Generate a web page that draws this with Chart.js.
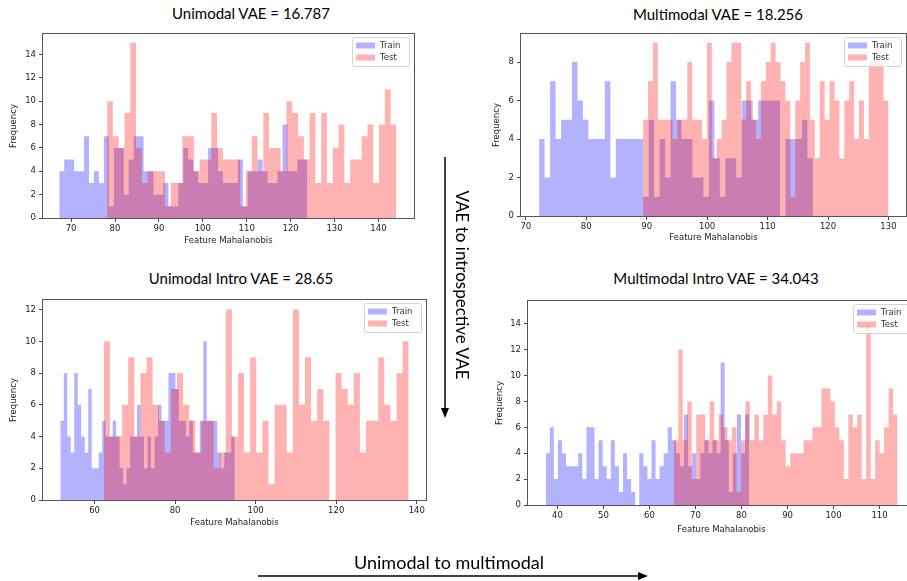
<!DOCTYPE html>
<html>
<head>
<meta charset="utf-8">
<script src="https://cdn.jsdelivr.net/npm/chart.js@4.4.1/dist/chart.umd.min.js"></script>
<style>
  html, body { margin: 0; padding: 0; background: #fff; }
  body { width: 907px; height: 581px; position: relative; overflow: hidden; }
  .title { position: absolute; transform: translate(-50%, -50%); font-family: Lato, "Noto Sans", sans-serif; font-size: 15px; color: #000; white-space: nowrap; }
  .big { position: absolute; font-family: Lato, "Noto Sans", sans-serif; color: #000; white-space: nowrap; }
</style>
</head>
<body>
<script>
// Panel titles
const panelTitles = [
  "Unimodal VAE = 16.787",
  "Multimodal VAE = 18.256",
  "Unimodal Intro VAE = 28.65",
  "Multimodal Intro VAE = 34.043",
];

// Histogram counts (50 bins each) and the data range the bins span
const trainRange1 = [67.3, 123.8];
const trainCounts1 = [4,5,5,4,4,7,3,4,3,7, 1,6,6,2,5,7,7,4,4,2, 2,3,1,1,3,6,5,4,3,3, 6,6,4,3,3,3,5,1,4,4, 5,4,3,3,4,8,4,4,5,5];
const testRange1 = [78.2, 144.1];
const testCounts1 = [10,7,6,9,15,6,3,4,4,4, 1,3,3,7,7,4,5,5,9,6, 5,5,5,1,4,7,4,9,6,6, 4,10,9,7,5,9,3,9,3,6, 8,3,5,5,7,8,3,8,11,8];

const trainRange2 = [72.2, 117.5];
const trainCounts2 = [4,2,7,4,5,5,8,6,5,4, 4,4,7,2,4,4,4,4,4,1, 5,1,4,2,7,5,4,4,2,2, 1,6,3,1,3,3,2,6,6,5, 6,6,6,6,0,4,4,4,5,3];
const testRange2 = [89.4, 130.0];
const testCounts2 = [5,7,9,5,5,5,4,5,5,8, 5,5,4,9,3,4,5,8,9,9, 5,7,5,4,7,8,9,8,7,6, 1,6,8,9,5,3,7,5,7,6, 3,6,7,4,6,4,8,9,8,6];

const trainRange3 = [51.5, 94.8];
const trainCounts3 = [5,8,4,3,8,6,4,3,7,2, 2,3,5,4,4,5,4,2,1,2, 4,4,6,4,2,4,2,4,6,5, 5,8,8,7,5,5,4,5,3,3, 5,10,5,5,5,3,2,3,3,4];
const testRange3 = [62.3, 138.0];
const testCounts3 = [10,4,4,6,9,4,8,9,6,5, 3,7,8,6,5,3,5,5,2,3, 12,4,8,3,9,3,5,1,6,6, 3,12,6,9,5,7,5,0,8,7, 6,8,3,5,5,9,6,5,8,10];

const trainRange4 = [37.45, 81.65];
const trainCounts4 = [4,6,2,5,4,3,3,3,4,2, 6,6,2,5,3,2,5,3,1,4, 2,1,0,4,3,2,5,2,3,4, 6,5,4,3,7,3,4,2,4,5, 4,5,4,11,5,1,4,7,4,7];
const testRange4 = [65.3, 113.9];
const testCounts4 = [5,12,5,8,2,7,7,5,8,5, 7,6,5,6,1,5,8,5,7,5, 7,10,7,8,5,3,4,4,4,5, 5,6,6,9,9,8,6,5,2,7, 6,7,2,14,2,5,4,6,9,7];

// Tick labels
const xTicks1 = [70, 80, 90, 100, 110, 120, 130, 140];
const xTicks2 = [70, 80, 90, 100, 110, 120, 130];
const xTicks3 = [60, 80, 100, 120, 140];
const xTicks4 = [40, 50, 60, 70, 80, 90, 100, 110];
const yTicks1 = [0, 2, 4, 6, 8, 10, 12, 14];
const yTicks2 = [0, 2, 4, 6, 8];
const yTicks3 = [0, 2, 4, 6, 8, 10, 12];
const yTicks4 = [0, 2, 4, 6, 8, 10, 12, 14];

const TRAIN_COLOR = "rgba(0,0,255,0.3)";
const TEST_COLOR = "rgba(255,0,0,0.3)";
const TICK_FONT = { family: "'DejaVu Sans'", size: 8.5 };
const Y_AXIS_W = 43;
const X_AXIS_H = 32;
const PAD = 5;

// Layout of each subplot on the page (axes box in page pixels)
const panels = [
  { title: panelTitles[0], titleAt: [251, 13], trainRange: trainRange1, trainCounts: trainCounts1, testRange: testRange1, testCounts: testCounts1,
    xTicks: xTicks1, yTicks: yTicks1, box: { left: 43, right: 414, top: 31, bottom: 218 }, xMin: 63.6, xMax: 148.1, yMax: 15.75, yTitlePad: 9, xTitlePad: 4 },
  { title: panelTitles[1], titleAt: [718, 14], trainRange: trainRange2, trainCounts: trainCounts2, testRange: testRange2, testCounts: testCounts2,
    xTicks: xTicks2, yTicks: yTicks2, box: { left: 521, right: 906, top: 31, bottom: 216 }, xMin: 69.2, xMax: 132.9, yMax: 9.45, yTitlePad: 14, xTitlePad: 5 },
  { title: panelTitles[2], titleAt: [241, 278], trainRange: trainRange3, trainCounts: trainCounts3, testRange: testRange3, testCounts: testCounts3,
    xTicks: xTicks3, yTicks: yTicks3, box: { left: 43, right: 426, top: 297, bottom: 500 }, xMin: 47.2, xMax: 142.3, yMax: 12.6, yTitlePad: 9, xTitlePad: 4 },
  { title: panelTitles[3], titleAt: [716, 278], trainRange: trainRange4, trainCounts: trainCounts4, testRange: testRange4, testCounts: testCounts4,
    xTicks: xTicks4, yTicks: yTicks4, box: { left: 528, right: 915, top: 298, bottom: 505 }, xMin: 33.6, xMax: 117.7, yMax: 15.75, yTitlePad: 10, xTitlePad: 2 },
];

// Turn bin counts into step points: each bin's value starts at its left edge
function histPoints(range, counts) {
  const step = (range[1] - range[0]) / counts.length;
  const pts = counts.map((c, i) => ({ x: range[0] + i * step, y: c }));
  pts.push({ x: range[1], y: counts[counts.length - 1] });
  return pts;
}

// Full matplotlib-style frame round the plot area
const frameBox = {
  id: "frameBox",
  afterDatasetsDraw(chart) {
    const { ctx, chartArea: a } = chart;
    ctx.save();
    ctx.strokeStyle = "#555";
    ctx.lineWidth = 1;
    ctx.strokeRect(Math.round(a.left) - 0.5, Math.round(a.top) - 0.5, Math.round(a.right - a.left) + 1, Math.round(a.bottom - a.top) + 1);
    ctx.restore();
  },
};

// Legend box in the upper right corner of the plot area
const cornerLegend = {
  id: "cornerLegend",
  afterDraw(chart) {
    const { ctx, chartArea: a } = chart;
    const w = 57, h = 29;
    const x = Math.round(a.right) - w - 5, y = Math.round(a.top) + 3;
    ctx.save();
    ctx.fillStyle = "rgba(255,255,255,0.8)";
    ctx.strokeStyle = "#d4d4d4";
    ctx.lineWidth = 1;
    ctx.beginPath();
    ctx.roundRect(x + 0.5, y + 0.5, w, h, 2);
    ctx.fill();
    ctx.stroke();
    ctx.font = "8.5px 'DejaVu Sans'";
    ctx.textBaseline = "middle";
    ["Train", "Test"].forEach((name, i) => {
      const ds = chart.data.datasets.find((d) => d.label === name);
      const rowY = y + 8.5 + i * 12;
      ctx.fillStyle = ds.backgroundColor;
      ctx.fillRect(x + 4, rowY - 3, 19, 6);
      ctx.fillStyle = "#333";
      ctx.fillText(name, x + 28, rowY);
    });
    ctx.restore();
  },
};

panels.forEach((p) => {
  const b = p.box;
  const left = b.left - Y_AXIS_W;
  const top = b.top - PAD;
  const w = b.right + PAD - left;
  const h = b.bottom + X_AXIS_H - top;

  const t = document.createElement("div");
  t.className = "title";
  t.textContent = p.title;
  t.style.left = p.titleAt[0] + "px";
  t.style.top = p.titleAt[1] + "px";
  document.body.appendChild(t);

  const cv = document.createElement("canvas");
  cv.width = w;
  cv.height = h;
  cv.style.cssText = `position:absolute;left:${left}px;top:${top}px;width:${w}px;height:${h}px`;
  document.body.appendChild(cv);

  new Chart(cv.getContext("2d"), {
    type: "line",
    data: {
      datasets: [
        { label: "Train", data: histPoints(p.trainRange, p.trainCounts), stepped: true, fill: "origin",
          backgroundColor: TRAIN_COLOR, borderColor: "transparent", borderWidth: 0, pointRadius: 0, order: 1 },
        { label: "Test", data: histPoints(p.testRange, p.testCounts), stepped: true, fill: "origin",
          backgroundColor: TEST_COLOR, borderColor: "transparent", borderWidth: 0, pointRadius: 0, order: 0 },
      ],
    },
    options: {
      responsive: false,
      animation: false,
      events: [],
      layout: { padding: { top: PAD, right: PAD, left: 0, bottom: 0 } },
      plugins: { legend: { display: false }, tooltip: { enabled: false } },
      scales: {
        x: {
          type: "linear",
          min: p.xMin,
          max: p.xMax,
          afterBuildTicks: (s) => { s.ticks = p.xTicks.map((v) => ({ value: v })); },
          afterFit: (s) => { s.height = X_AXIS_H; },
          grid: { drawOnChartArea: false, drawTicks: true, tickLength: 4, color: "#444" },
          border: { display: false },
          ticks: { font: TICK_FONT, color: "#222", padding: 2, maxRotation: 0 },
          title: { display: true, text: "Feature Mahalanobis", font: TICK_FONT, color: "#222", padding: { top: 0, bottom: p.xTitlePad } },
        },
        y: {
          type: "linear",
          min: 0,
          max: p.yMax,
          afterBuildTicks: (s) => { s.ticks = p.yTicks.map((v) => ({ value: v })); },
          afterFit: (s) => { s.width = Y_AXIS_W; },
          grid: { drawOnChartArea: false, drawTicks: true, tickLength: 4, color: "#444" },
          border: { display: false },
          ticks: { font: TICK_FONT, color: "#222", padding: 3 },
          title: { display: true, text: "Frequency", font: TICK_FONT, color: "#222", padding: { top: p.yTitlePad, bottom: 0 } },
        },
      },
    },
    plugins: [frameBox, cornerLegend],
  });
});
</script>

<svg width="907" height="581" style="position:absolute;left:0;top:0;pointer-events:none">
  <line x1="445" y1="157" x2="445" y2="410" stroke="#000" stroke-width="1.5"/>
  <polygon points="441,408 449,408 445,418" fill="#000"/>
  <line x1="258" y1="576" x2="640" y2="576" stroke="#000" stroke-width="1.5"/>
  <polygon points="638,572 638,580 648,576" fill="#000"/>
</svg>
<div class="big" style="left:462px;top:285px;font-size:17px;transform:translate(-50%,-50%) rotate(90deg);">VAE to introspective VAE</div>
<div class="big" style="left:449px;top:562px;font-size:18px;transform:translate(-50%,-50%);">Unimodal to multimodal</div>
</body>
</html>
